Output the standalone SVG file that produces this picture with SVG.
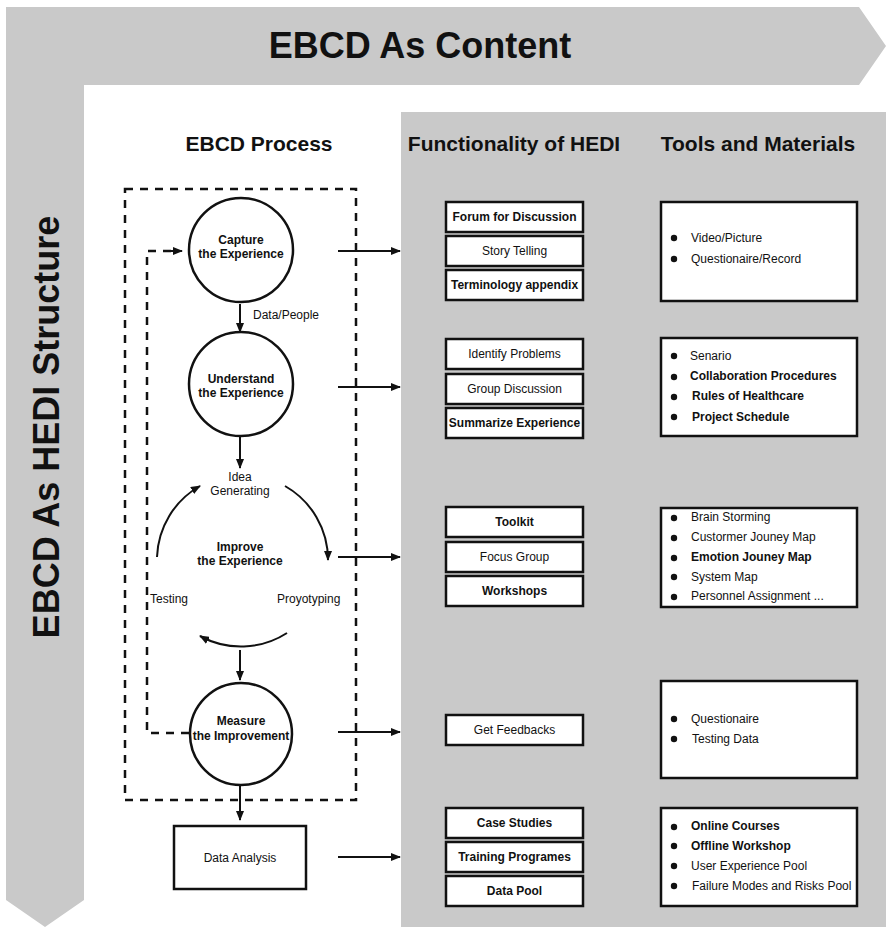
<svg xmlns="http://www.w3.org/2000/svg" width="886" height="927" viewBox="0 0 886 927">
<style>
  text { font-family: "Liberation Sans", Arial, sans-serif; fill: #111; }
  .title { font-size: 36px; font-weight: bold; text-anchor: middle; }
  .hdr { font-size: 21px; font-weight: bold; text-anchor: middle; }
  .ctext { font-size: 12px; font-weight: bold; text-anchor: middle; }
  .lbl { font-size: 12px; text-anchor: middle; }
  .lbll { font-size: 12px; }
  .fbox { fill: #fff; stroke: #111; stroke-width: 2.5; }
  .ft { font-size: 12px; text-anchor: middle; }
  .b { font-weight: bold; }
  .tbox { fill: #fff; stroke: #111; stroke-width: 2.5; }
  .ti { font-size: 12px; }
  .bul { fill: #111; }
  .circ { fill: #fff; stroke: #111; stroke-width: 2.5; }
  .dash { fill: none; stroke: #111; stroke-width: 2.5; stroke-dasharray: 8 7; }
  .conn { fill: none; stroke: #111; stroke-width: 2; }
</style>
<defs>
  <marker id="ah" markerUnits="userSpaceOnUse" markerWidth="10" markerHeight="8" refX="9" refY="4" orient="auto">
    <path d="M0,0 L10,4 L0,8 z" fill="#111"/>
  </marker>
</defs>

<g id="frame">
  <path d="M6,7 L859,7 L886,46 L859,85 L84,85 L84,900 L45,927 L6,900 Z" fill="#c9c9c9"/>
  <rect x="401" y="112" width="485" height="815" fill="#c9c9c9"/>
  <text class="title" x="420" y="58">EBCD As Content</text>
  <text class="title" transform="translate(59,427) rotate(-90)" x="0" y="0">EBCD As HEDI Structure</text>
  <text class="hdr" x="259" y="151">EBCD Process</text>
  <text class="hdr" x="514" y="151">Functionality of HEDI</text>
  <text class="hdr" x="758" y="151">Tools and Materials</text>
</g>

<g id="process-box">
  <rect class="dash" x="125" y="189" width="231" height="611"/>
</g>

<g id="connectors">
  <path class="conn" d="M240,304 V332" marker-end="url(#ah)"/>
  <path class="conn" d="M240,437 V468" marker-end="url(#ah)"/>
  <path class="conn" d="M157,557 A85,85 0 0 1 200,486" marker-end="url(#ah)"/>
  <path class="conn" d="M285,486 A85,85 0 0 1 328,560" marker-end="url(#ah)"/>
  <path class="conn" d="M287,633 A85,85 0 0 1 200,636" marker-end="url(#ah)"/>
  <path class="conn" d="M240,650 V680" marker-end="url(#ah)"/>
  <path class="conn" d="M240,786 V820" marker-end="url(#ah)"/>
  <path class="dash" d="M189,733 H147 V251 H176" stroke-dasharray="8 7"/>
  <path class="conn" d="M170,251 H182" marker-end="url(#ah)"/>
  <path class="conn" d="M338,251 H400" marker-end="url(#ah)"/>
  <path class="conn" d="M338,387 H400" marker-end="url(#ah)"/>
  <path class="conn" d="M338,557 H400" marker-end="url(#ah)"/>
  <path class="conn" d="M338,732 H400" marker-end="url(#ah)"/>
  <path class="conn" d="M338,857 H400" marker-end="url(#ah)"/>
  <text class="lbll" x="253" y="319">Data/People</text>
</g>

<g id="capture">
  <circle class="circ" cx="241" cy="250" r="52"/>
  <text class="ctext" x="241" y="244">Capture</text>
  <text class="ctext" x="241" y="258">the Experience</text>
</g>
<g id="understand">
  <circle class="circ" cx="241" cy="384" r="52"/>
  <text class="ctext" x="241" y="383">Understand</text>
  <text class="ctext" x="241" y="397">the Experience</text>
</g>
<g id="improve">
  <text class="lbl" x="240" y="481">Idea</text>
  <text class="lbl" x="240" y="495">Generating</text>
  <text class="ctext" x="240" y="551">Improve</text>
  <text class="ctext" x="240" y="565">the Experience</text>
  <text class="lbll" x="150" y="603">Testing</text>
  <text class="lbll" x="277" y="603">Proyotyping</text>
</g>
<g id="measure">
  <circle class="circ" cx="241" cy="734" r="51"/>
  <text class="ctext" x="241" y="725">Measure</text>
  <text class="ctext" x="241" y="740">the Improvement</text>
</g>
<g id="data-analysis">
  <rect class="fbox" x="174" y="826" width="132" height="63"/>
  <text class="lbl" x="240" y="862">Data Analysis</text>
</g>

<g id="func-1">
  <rect class="fbox" x="446" y="202" width="137" height="30"/>
  <text class="ft b" x="514.5" y="221">Forum for Discussion</text>
  <rect class="fbox" x="446" y="236" width="137" height="30"/>
  <text class="ft" x="514.5" y="255">Story Telling</text>
  <rect class="fbox" x="446" y="270" width="137" height="30"/>
  <text class="ft b" x="514.5" y="289">Terminology appendix</text>
</g>
<g id="func-2">
  <rect class="fbox" x="446" y="339" width="137" height="30"/>
  <text class="ft" x="514.5" y="358">Identify Problems</text>
  <rect class="fbox" x="446" y="374" width="137" height="30"/>
  <text class="ft" x="514.5" y="393">Group Discussion</text>
  <rect class="fbox" x="446" y="408" width="137" height="30"/>
  <text class="ft b" x="514.5" y="427">Summarize Experience</text>
</g>
<g id="func-3">
  <rect class="fbox" x="446" y="507" width="137" height="30"/>
  <text class="ft b" x="514.5" y="526">Toolkit</text>
  <rect class="fbox" x="446" y="542" width="137" height="30"/>
  <text class="ft" x="514.5" y="561">Focus Group</text>
  <rect class="fbox" x="446" y="576" width="137" height="30"/>
  <text class="ft b" x="514.5" y="595">Workshops</text>
</g>
<g id="func-4">
  <rect class="fbox" x="446" y="715" width="137" height="30"/>
  <text class="ft" x="514.5" y="734">Get Feedbacks</text>
</g>
<g id="func-5">
  <rect class="fbox" x="446" y="808" width="137" height="30"/>
  <text class="ft b" x="514.5" y="827">Case Studies</text>
  <rect class="fbox" x="446" y="842" width="137" height="30"/>
  <text class="ft b" x="514.5" y="861">Training Programes</text>
  <rect class="fbox" x="446" y="876" width="137" height="30"/>
  <text class="ft b" x="514.5" y="895">Data Pool</text>
</g>

<g id="tools-1">
  <rect class="tbox" x="661" y="202" width="196" height="99"/>
  <circle class="bul" cx="674" cy="238" r="3.2"/><text class="ti" x="691" y="242">Video/Picture</text>
  <circle class="bul" cx="674" cy="259" r="3.2"/><text class="ti" x="691" y="263">Questionaire/Record</text>
</g>
<g id="tools-2">
  <rect class="tbox" x="661" y="338" width="196" height="98"/>
  <circle class="bul" cx="674" cy="356" r="3.2"/><text class="ti" x="690" y="360">Senario</text>
  <circle class="bul" cx="674" cy="377" r="3.2"/><text class="ti b" x="690" y="380">Collaboration Procedures</text>
  <circle class="bul" cx="674" cy="397" r="3.2"/><text class="ti b" x="692" y="400">Rules of Healthcare</text>
  <circle class="bul" cx="674" cy="417" r="3.2"/><text class="ti b" x="692" y="421">Project Schedule</text>
</g>
<g id="tools-3">
  <rect class="tbox" x="661" y="508" width="196" height="99"/>
  <circle class="bul" cx="674" cy="518" r="3.2"/><text class="ti" x="691" y="521">Brain Storming</text>
  <circle class="bul" cx="674" cy="538" r="3.2"/><text class="ti" x="691" y="541">Custormer Jouney Map</text>
  <circle class="bul" cx="674" cy="558" r="3.2"/><text class="ti b" x="691" y="561">Emotion Jouney Map</text>
  <circle class="bul" cx="674" cy="577" r="3.2"/><text class="ti" x="691" y="581">System Map</text>
  <circle class="bul" cx="674" cy="597" r="3.2"/><text class="ti" x="691" y="600">Personnel Assignment ...</text>
</g>
<g id="tools-4">
  <rect class="tbox" x="661" y="681" width="196" height="97"/>
  <circle class="bul" cx="674" cy="719" r="3.2"/><text class="ti" x="691" y="723">Questionaire</text>
  <circle class="bul" cx="674" cy="739" r="3.2"/><text class="ti" x="692" y="743">Testing Data</text>
</g>
<g id="tools-5">
  <rect class="tbox" x="661" y="808" width="196" height="98"/>
  <circle class="bul" cx="674" cy="827" r="3.2"/><text class="ti b" x="691" y="830">Online Courses</text>
  <circle class="bul" cx="674" cy="846" r="3.2"/><text class="ti b" x="691" y="850">Offline Workshop</text>
  <circle class="bul" cx="674" cy="866" r="3.2"/><text class="ti" x="691" y="870">User Experience Pool</text>
  <circle class="bul" cx="674" cy="886" r="3.2"/><text class="ti" x="692" y="890">Failure Modes and Risks Pool</text>
</g>
</svg>
